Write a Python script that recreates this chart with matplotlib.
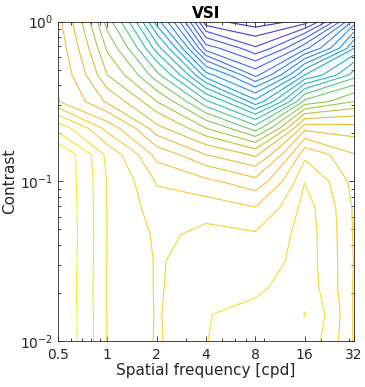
import numpy as np
import matplotlib
matplotlib.use("Agg")
import matplotlib.pyplot as plt
from matplotlib.colors import LinearSegmentedColormap, Normalize

# grid of the metric response (in contour-level units)
freq = [0.5, 1, 2, 4, 8, 16, 32]  # cpd
contrast = [1, 0.681, 0.464, 0.316, 0.215, 0.147, 0.1,
            0.0681, 0.0464, 0.0316, 0.0215, 0.0147, 0.01]
vsi = [
    [23.3, 17.5, 10.5, 1.3, 0.34, 1.5, 8.5],
    [23.6, 18.8, 13.5, 5.5, 3.15, 6.7, 12.0],
    [23.85, 20.0, 16.3, 10.4, 6.7, 12.0, 15.5],
    [24.05, 21.8, 19.0, 15.2, 11.3, 17.3, 19.0],
    [27.6, 24.6, 21.3, 19.0, 16.5, 22.7, 22.4],
    [29.9, 26.7, 23.6, 22.0, 20.8, 25.7, 24.05],
    [29.85, 26.95, 24.9, 24.2, 23.3, 26.97, 24.6],
    [29.9, 26.95, 25.4, 25.5, 25.05, 27.4, 24.85],
    [29.95, 26.96, 25.8, 26.3, 26.1, 27.5, 24.9],
    [29.9, 26.95, 25.9, 26.6, 26.45, 27.5, 24.95],
    [29.85, 26.94, 25.9, 26.8, 26.85, 27.6, 24.9],
    [29.9, 26.95, 25.92, 26.98, 27.2, 28.03, 24.9],
    [29.92, 26.96, 25.9, 26.99, 27.3, 27.7, 24.9],
]
levels = list(range(1, 30))
xtick_vals = [0.5, 1, 2, 4, 8, 16, 32]
xtick_labels = ['0.5', '1', '2', '4', '8', '16', '32']

# parula-like colormap
parula = LinearSegmentedColormap.from_list('parula', [
    (0.00, (0.2422, 0.1504, 0.6603)),
    (0.10, (0.2800, 0.3000, 0.9500)),
    (0.24, (0.2000, 0.4800, 0.9800)),
    (0.37, (0.0700, 0.6500, 0.8800)),
    (0.48, (0.1500, 0.7500, 0.6800)),
    (0.57, (0.4500, 0.8000, 0.3800)),
    (0.64, (0.6800, 0.7800, 0.2200)),
    (0.71, (0.8800, 0.7500, 0.1800)),
    (0.79, (0.9900, 0.7300, 0.2500)),
    (0.90, (0.9700, 0.8600, 0.1600)),
    (1.00, (0.9769, 0.9839, 0.0805)),
])

Z = np.array(vsi)
axc = (0.15, 0.15, 0.15)

fig = plt.figure(figsize=(3.65, 3.87), dpi=100)
ax = fig.add_axes([58 / 365, 1 - 341 / 387, 296 / 365, 319.3 / 387])
ax.contour(freq, contrast, Z, levels=levels, cmap=parula,
           norm=Normalize(Z.min(), Z.max()), linewidths=0.8)

ax.set_xscale('log')
ax.set_yscale('log')
ax.set_xlim(0.5, 32)
ax.set_ylim(0.01, 1)
ax.set_xticks(xtick_vals)
ax.set_xticklabels(xtick_labels)

ax.tick_params(which='both', direction='in', top=True, right=True,
               colors=axc, labelsize=10, width=0.6)
ax.tick_params(which='major', length=3.5)
ax.tick_params(which='minor', length=2)
ax.tick_params(axis='x', pad=5)
for s in ax.spines.values():
    s.set_color(axc)
    s.set_linewidth(0.6)

ax.set_xlabel('Spatial frequency [cpd]', fontsize=11, color=axc, labelpad=1)
ax.set_ylabel('Contrast', fontsize=11, color=axc, labelpad=2)
ax.set_title('VSI', fontsize=11, fontweight='bold', pad=3)

fig.savefig('out.png', dpi=100)
